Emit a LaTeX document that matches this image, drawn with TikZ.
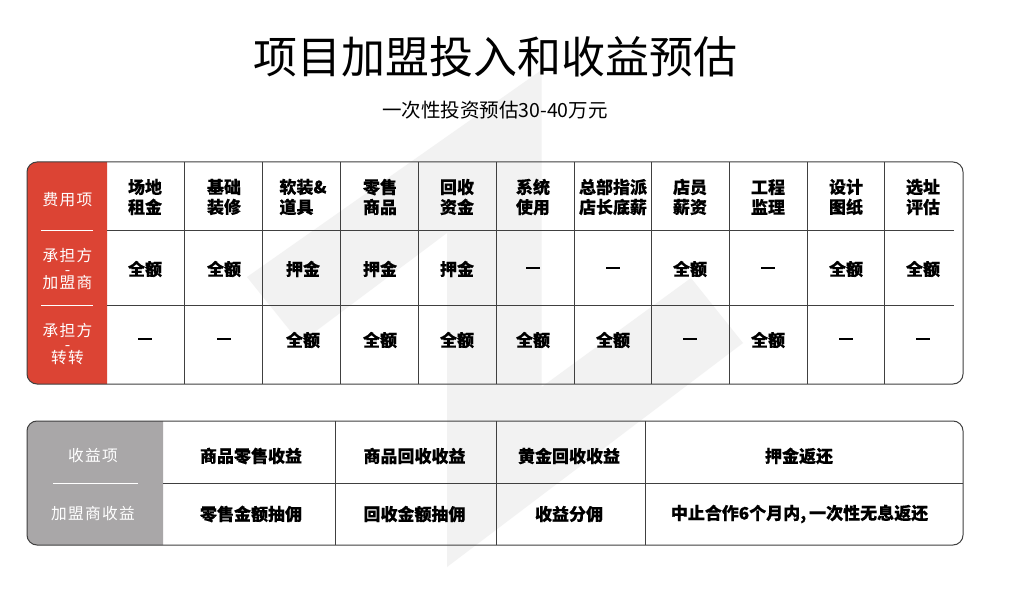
\documentclass[tikz,border=0pt]{standalone}
\usepackage{fontspec}
\setmainfont[BoldFeatures={FakeBold=0.25}]{Noto Sans CJK SC}
\newfontfamily\spaced[LetterSpace=8]{Noto Sans CJK SC}
\definecolor{redblock}{HTML}{DC4434}
\definecolor{grayblock}{HTML}{A9A7A8}
\definecolor{rulecol}{HTML}{404040}
\definecolor{wmark}{HTML}{F2F2F2}
\tikzset{
 cell/.style={inner sep=0pt,align=center,font=\fontsize{17}{20}\selectfont\bfseries,text=black},
 sidelabel/.style={inner sep=0pt,align=center,font=\fontsize{15.7}{13.5}\selectfont\spaced,text=white},
 gridline/.style={draw=rulecol,line width=1pt},
 sep/.style={draw=white,line width=0.8pt}
}
\begin{document}
\begin{tikzpicture}[x=1pt,y=-1pt]
\useasboundingbox (0,0) rectangle (1011,612);
\fill[white] (0,0) rectangle (1011,612);
% watermark
\fill[wmark] (247,277) -- (541.6,70) -- (541.6,387) -- (691,278) -- (743,343) -- (447,567) -- (447,233) -- (300,343) -- cycle;
% titles
\node[inner sep=0pt,font=\fontsize{44}{50}\selectfont] (title) at (495,57) {项目加盟投入和收益预估};
\node[inner sep=0pt,font=\fontsize{19.5}{24}\selectfont] (subtitle) at (495,110.5) {一次性投资预估30-40万元};
% top table
\fill[redblock] (107,162) -- (37,162) arc[start angle=-90,end angle=-180,radius=10] -- (27,374) arc[start angle=180,end angle=90,radius=10] -- (107,384) -- cycle;
\draw[gridline] (107,230.5) -- (954,230.5);
\draw[gridline] (107,305) -- (954,305);
\foreach \x in {184.8,262.8,340.5,418.5,496,574,651.5,729,807,884.8} \draw[gridline] (\x,162) -- (\x,384);
\draw[gridline] (37,162) -- (953,162) arc[start angle=-90,end angle=0,radius=10] -- (963,374) arc[start angle=0,end angle=90,radius=10] -- (37,384) arc[start angle=90,end angle=180,radius=10] -- (27,172) arc[start angle=180,end angle=270,radius=10] -- cycle;
\draw[sep] (41,230.5) -- (93,230.5);
\draw[sep] (41,305) -- (93,305);
\node[sidelabel] (l1) at (67.5,200) {费用项};
\node[sidelabel] (l2) at (67.5,269) {承担方\\-\\加盟商};
\node[sidelabel] (l4) at (67.5,344) {承担方\\-\\转转};
% header row
\node[cell] (h1) at (145,197) {场地\\租金};
\node[cell] (h2) at (224,197) {基础\\装修};
\node[cell,align=left] (h3) at (303,197) {软装\&\\道具};
\node[cell] (h4) at (380,197) {零售\\商品};
\node[cell] (h5) at (457,197) {回收\\资金};
\node[cell] (h6) at (533,197) {系统\\使用};
\node[cell] (h7) at (613,197) {总部指派\\店长底薪};
\node[cell] (h8) at (690,197) {店员\\薪资};
\node[cell] (h9) at (768,197) {工程\\监理};
\node[cell] (h10) at (846,197) {设计\\图纸};
\node[cell] (h11) at (923,197) {选址\\评估};
% row 2
\node[cell] (a1) at (145,269) {全额};
\node[cell] (a2) at (224,269) {全额};
\node[cell] (a3) at (303,269) {押金};
\node[cell] (a4) at (380,269) {押金};
\node[cell] (a5) at (457,269) {押金};
\node[cell] (a6) at (533,270) {—};
\node[cell] (a7) at (613,270) {—};
\node[cell] (a8) at (690,269) {全额};
\node[cell] (a9) at (768,270) {—};
\node[cell] (a10) at (846,269) {全额};
\node[cell] (a11) at (923,269) {全额};
% row 3
\node[cell] (b1) at (145,341) {—};
\node[cell] (b2) at (224,341) {—};
\node[cell] (b3) at (303,340) {全额};
\node[cell] (b4) at (380,340) {全额};
\node[cell] (b5) at (457,340) {全额};
\node[cell] (b6) at (533,340) {全额};
\node[cell] (b7) at (613,340) {全额};
\node[cell] (b8) at (690,341) {—};
\node[cell] (b9) at (768,340) {全额};
\node[cell] (b10) at (846,341) {—};
\node[cell] (b11) at (923,341) {—};
% bottom table
\fill[grayblock] (163,421) -- (37,421) arc[start angle=-90,end angle=-180,radius=10] -- (27,535) arc[start angle=180,end angle=90,radius=10] -- (163,545) -- cycle;
\draw[gridline] (163,483.5) -- (963,483.5);
\foreach \x in {335.6,496,645} \draw[gridline] (\x,421) -- (\x,545);
\draw[gridline] (37,421) -- (953,421) arc[start angle=-90,end angle=0,radius=10] -- (963,535) arc[start angle=0,end angle=90,radius=10] -- (37,545) arc[start angle=90,end angle=180,radius=10] -- (27,431) arc[start angle=180,end angle=270,radius=10] -- cycle;
\draw[sep] (53,483.5) -- (138,483.5);
\node[sidelabel] (g1) at (93,456) {收益项};
\node[sidelabel] (g2) at (93,514) {加盟商收益};
\node[cell] (r1) at (251,456) {商品零售收益};
\node[cell] (r2) at (414.5,456) {商品回收收益};
\node[cell] (r3) at (569,456) {黄金回收收益};
\node[cell] (r4) at (799,456) {押金返还};
\node[cell] (s1) at (251,514) {零售金额抽佣};
\node[cell] (s2) at (414.5,514) {回收金额抽佣};
\node[cell] (s3) at (569,514) {收益分佣};
\node[cell] (s4) at (799.5,514) {中止合作6个月内,\hspace{3pt}一次性无息返还};
\end{tikzpicture}
\end{document}
